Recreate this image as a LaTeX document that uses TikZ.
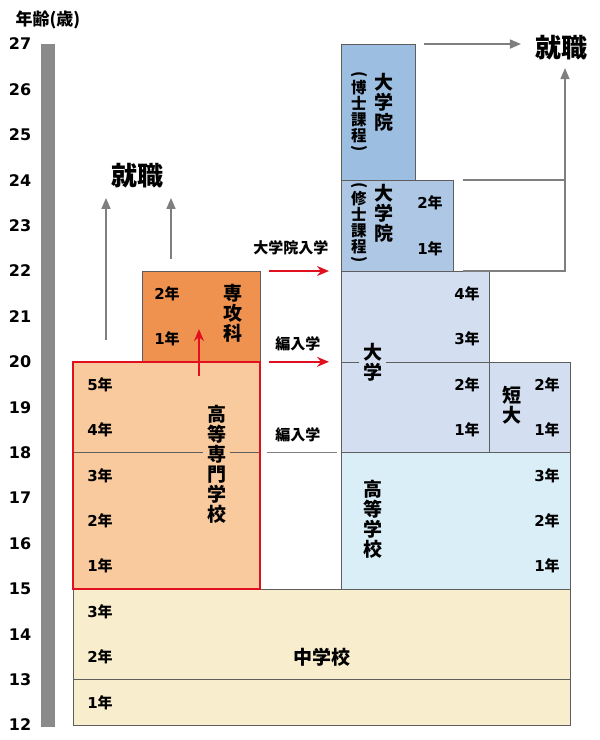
\documentclass[tikz,border=0pt]{standalone}
\usepackage{fontspec}
\setmainfont{Noto Sans CJK JP}
\newfontfamily\numfont{DejaVu Sans}
\usetikzlibrary{arrows.meta, positioning}

\definecolor{wkgray}{HTML}{5E5E5E}
\definecolor{scalegray}{HTML}{8A8A8A}
\definecolor{arrgray}{HTML}{7F7F7F}
\definecolor{chu}{HTML}{F8EDCC}
\definecolor{kosen}{HTML}{F8CA9E}
\definecolor{kosenred}{HTML}{E0101E}
\definecolor{senkou}{HTML}{F0924F}
\definecolor{koukou}{HTML}{DAEEF7}
\definecolor{dai}{HTML}{D3DEF0}
\definecolor{shushi}{HTML}{ADC7E4}
\definecolor{hakushi}{HTML}{9CBEE1}

\newcommand{\nen}[1]{{\numfont #1}年}

\tikzset{
  agelbl/.style={font=\numfont\bfseries\fontsize{16}{16}\selectfont, inner sep=0pt},
  nenlbl/.style={font=\bfseries\fontsize{15}{15}\selectfont, inner sep=0pt},
  tate/.style={align=center, font=\bfseries\fontsize{19}{20}\selectfont, inner sep=0pt},
  tatesm/.style={align=center, font=\bfseries\fontsize{15.5}{16}\selectfont, inner sep=0pt},
  kakko/.style={font=\bfseries\fontsize{15.5}{16}\selectfont, inner sep=0pt},
  shushoku/.style={font=\bfseries\fontsize{26}{26}\selectfont, inner sep=0pt},
  up/.style={draw=arrgray, line width=1.6pt, -{Triangle[length=11pt, width=9pt]}},
  redarr/.style={draw=kosenred, line width=1.6pt, -{Stealth[length=12pt, width=10pt]}},
}

\begin{document}
\begin{tikzpicture}[x=1pt, y=45.4pt]

    \useasboundingbox (0, 11.67) rectangle (600, 27.97);

    % age scale
    \path[fill=scalegray] (41, 11.96) rectangle (55, 27);
    \foreach \a in {12,...,27}
      \node[agelbl] (age\a) at (20, \a) {\a};
    \node[font=\bfseries\fontsize{17}{17}\selectfont, inner sep=0pt] (nenrei) at (48, 27.53) {年齢(歳)};

    % chugakko
    \path[draw=wkgray, fill=chu] (73, 12) rectangle (570, 15);
    \path[draw=wkgray] (73, 13) -- (570, 13);
    \node[font=\bfseries\fontsize{19}{19}\selectfont, inner sep=0pt] (chu) at (322, 13.5) {中学校};
    \foreach \n in {1,2,3}
      \node[nenlbl] (chu\n) at (100, 11.5 + \n) {\nen{\n}};

    % koukou
    \path[draw=wkgray, fill=koukou] (341, 15) rectangle (570, 18);
    \node[tate] (kou) at (373, 16.54) {高\\等\\学\\校};
    \foreach \n in {1,2,3}
      \node[nenlbl] (kou\n) at (547, 14.5 + \n) {\nen{\n}};

    % daigaku
    \path[draw=wkgray, fill=dai] (341, 18) rectangle (489, 22);
    \path[draw=wkgray] (341, 20) -- (489, 20);
    \node[tate, fill=dai, inner xsep=4pt] (dai) at (373, 20) {大\\学};
    \foreach \n in {1,...,4}
      \node[nenlbl] (dai\n) at (467, 17.5 + \n) {\nen{\n}};

    % tandai
    \path[draw=wkgray, fill=dai] (489, 18) rectangle (570, 20);
    \node[tate] (tan) at (512, 19.05) {短\\大};
    \foreach \n in {1,2}
      \node[nenlbl] (tan\n) at (547, 17.5 + \n) {\nen{\n}};

    % daigakuin (shushi)
    \path[draw=wkgray, fill=shushi] (341, 22) rectangle (453, 24);
    \foreach \n in {1,2}
      \node[nenlbl] (shu\n) at (430, 21.5 + \n) {\nen{\n}};

    % daigakuin (hakushi)
    \path[draw=wkgray, fill=hakushi] (341, 24) rectangle (415, 27);

    \node[tate] (shu) at (384, 23.27) {大\\学\\院};
    \node[tatesm] (shuk) at (359, 23.07) {修\\士\\課\\程};
    \node[kakko, above=2pt of shuk] (shuk0) {\rotatebox{-90}{(}};
    \node[kakko, below=2pt of shuk] (shuk1) {\rotatebox{-90}{)}};

    \node[tate] (haku) at (384, 25.71) {大\\学\\院};
    \node[tatesm] (hakuk) at (359, 25.51) {博\\士\\課\\程};
    \node[kakko, above=2pt of hakuk] (hakuk0) {\rotatebox{-90}{(}};
    \node[kakko, below=2pt of hakuk] (hakuk1) {\rotatebox{-90}{)}};

    % kosen
    \path[fill=kosen] (73, 15) rectangle (260, 20);
    \path[draw=wkgray] (73, 18) -- (260, 18);
    \node[tate, fill=kosen, inner xsep=4pt] (kosen) at (217, 17.75) {高\\等\\専\\門\\学\\校};
    \foreach \n in {1,...,5}
      \node[nenlbl] (kosen\n) at (100, 14.5 + \n) {\nen{\n}};

    % senkoka
    \path[draw=wkgray, fill=senkou] (142, 20) rectangle (260, 22);
    \node[tate] (senkou) at (233, 21.06) {専\\攻\\科};
    \foreach \n in {1,2}
      \node[nenlbl] (senkou\n) at (167, 19.5 + \n) {\nen{\n}};

    \path[draw=kosenred, line width=2pt] (73, 15) rectangle (260, 20);

    % shushoku (left)
    \node[shushoku] (shoku1) at (138, 24.09) {就職};
    \coordinate (k0) at (106, 20.48);
    \coordinate (k1) at (106, 23.61);
    \coordinate (s0) at (171, 22.26);
    \coordinate (s1) at (171, 23.61);
    \path[up] (k0) to (k1);
    \path[up] (s0) to (s1);

    % kosen -> senkoka
    \coordinate (ks0) at (199, 19.69);
    \coordinate (ks1) at (199, 20.72);
    \path[redarr] (ks0) to (ks1);

    % nyugaku
    \node[nenlbl] (inlbl) at (291, 22.51) {大学院入学};
    \coordinate (in0) at (269, 22);
    \coordinate (in1) at (329, 22);
    \path[redarr] (in0) to (in1);

    \node[nenlbl] (hen1lbl) at (298, 20.39) {編入学};
    \coordinate (hen0) at (269, 20);
    \coordinate (hen1) at (329, 20);
    \path[redarr] (hen0) to (hen1);

    \node[nenlbl] (hen2lbl) at (298, 18.39) {編入学};
    \coordinate (hk0) at (267, 18);
    \coordinate (hk1) at (337, 18);
    \path[draw=arrgray, line width=1.4pt] (hk0) to (hk1);

    % shushoku (right)
    \node[shushoku] (shoku2) at (562, 26.91) {就職};
    \coordinate (t0) at (424, 27);
    \coordinate (t1) at (521, 27);
    \path[up] (t0) to (t1);
    \coordinate (r24) at (463, 24);
    \coordinate (c24) at (565, 24);
    \coordinate (r22) at (463, 22);
    \coordinate (c22) at (565, 22);
    \coordinate (ctip) at (565, 26.47);
    \path[draw=arrgray, line width=1.6pt] (r24) to (c24);
    \path[up] (r22) -- (c22) -- (ctip);

  \end{tikzpicture}
\end{document}
